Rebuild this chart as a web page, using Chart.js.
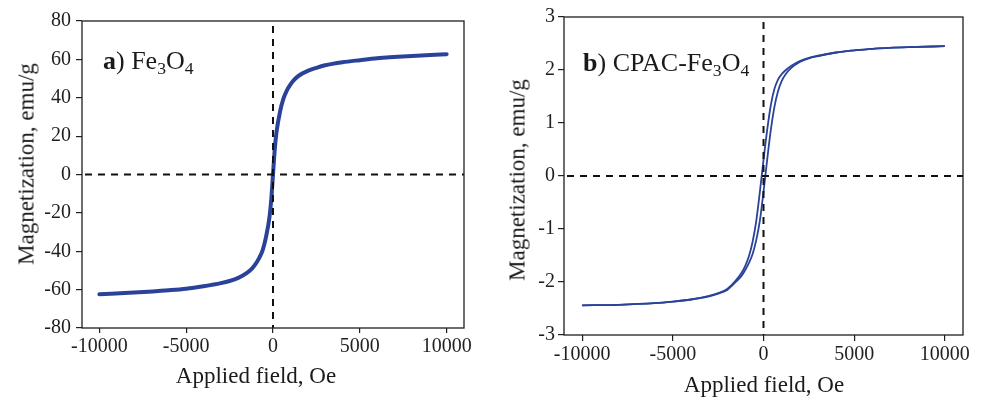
<!DOCTYPE html>
<html><head><meta charset="utf-8">
<script src="https://cdn.jsdelivr.net/npm/chart.js@4/dist/chart.umd.min.js"></script>
<style>
html,body{margin:0;padding:0;background:#fff;}
#wrap{position:relative;width:984px;height:398px;overflow:hidden;background:#fff;}
canvas{position:absolute;top:0;}
.t{position:absolute;font-family:"Liberation Serif","Times New Roman",serif;color:#1a1a1a;white-space:nowrap;line-height:1;}
.t sub{font-size:0.68em;position:relative;top:0.3em;vertical-align:baseline;line-height:0;}
</style></head>
<body><div id="wrap">
<canvas id="ca" width="490" height="398" style="left:0"></canvas>
<canvas id="cb" width="494" height="398" style="left:490px"></canvas>
<div class="t" style="left:103px;top:48px;font-size:26px"><b>a</b>) Fe<sub>3</sub>O<sub>4</sub></div>
<div class="t" style="left:583px;top:50px;font-size:26px"><b>b</b>) CPAC-Fe<sub>3</sub>O<sub>4</sub></div>
<div class="t" style="left:256px;top:364px;font-size:23px;transform:translateX(-50%)">Applied field, Oe</div>
<div class="t" style="left:764px;top:373px;font-size:23px;transform:translateX(-50%)">Applied field, Oe</div>
<div class="t" style="left:26px;top:164px;font-size:23px;transform:translate(-50%,-50%) rotate(-90deg)">Magnetization, emu/g</div>
<div class="t" style="left:517px;top:180px;font-size:23px;transform:translate(-50%,-50%) rotate(-90deg)">Magnetization, emu/g</div>
</div>
<script>
// ---- data ----
const xTicks = [-10000, -5000, 0, 5000, 10000];
const yTicksA = [-80, -60, -40, -20, 0, 20, 40, 60, 80];
const yTicksB = [-3, -2, -1, 0, 1, 2, 3];

// a) Fe3O4
const fieldA = [-10000,-8000,-6000,-5000,-4000,-3000,-2500,-2000,-1500,-1200,-1000,-800,-600,-400,-200,-100,0,100,200,400,600,800,1000,1200,1500,2000,2500,3000,4000,5000,6000,8000,10000];
const magA   = [-62.4,-61.5,-60.3,-59.5,-58.2,-56.6,-55.5,-53.9,-51.3,-48.9,-46.6,-43.6,-39.5,-32.5,-22,-13,0,13,22,32.5,39.5,43.8,46.8,49.2,51.6,54,55.6,56.9,58.5,59.6,60.6,61.8,62.7];

// b) CPAC-Fe3O4 (two branches of the loop)
const fieldB    = [-10000,-8000,-6000,-5000,-4000,-3000,-2500,-2000,-1500,-1200,-1000,-800,-600,-400,-200,0,200,400,600,800,1000,1200,1500,2000,2500,3000,4000,5000,6000,8000,10000];
const magBdown  = [-2.44,-2.43,-2.40,-2.37,-2.33,-2.26,-2.21,-2.13,-1.96,-1.82,-1.69,-1.51,-1.24,-0.85,-0.30,0.30,0.86,1.33,1.64,1.82,1.92,1.99,2.07,2.17,2.23,2.27,2.33,2.37,2.40,2.43,2.45];
const magBup    = [-2.44,-2.43,-2.40,-2.37,-2.33,-2.27,-2.22,-2.15,-1.99,-1.88,-1.77,-1.64,-1.47,-1.21,-0.84,-0.30,0.30,0.86,1.30,1.60,1.79,1.91,2.03,2.15,2.22,2.26,2.33,2.37,2.40,2.43,2.45];

// ---- styling ----
const BLUE = '#2a429a';
const INK = '#1f1f1f';
const FONT = '"Liberation Serif","Times New Roman",serif';

const pts = (xs, ys) => xs.map((x, i) => ({x, y: ys[i]}));

const framePlugin = {
  id: 'frame',
  afterDatasetsDraw(chart) {
    const {ctx, chartArea: a, scales} = chart;
    ctx.save();
    // zero reference lines
    ctx.strokeStyle = '#111';
    ctx.lineWidth = 2;
    ctx.setLineDash([7, 6]);
    const y0 = scales.y.getPixelForValue(0);
    const x0 = scales.x.getPixelForValue(0);
    ctx.beginPath();
    ctx.moveTo(a.left + 3, y0); ctx.lineTo(a.right, y0);
    ctx.moveTo(x0, a.top + 5); ctx.lineTo(x0, a.bottom);
    ctx.stroke();
    ctx.setLineDash([]);
    // frame
    ctx.strokeStyle = INK;
    ctx.lineWidth = 1.3;
    ctx.strokeRect(a.left, a.top, a.right - a.left, a.bottom - a.top);
    ctx.restore();
  }
};

function makeChart(id, datasets, yTicks, cfg) {
  return new Chart(document.getElementById(id), {
    type: 'line',
    data: {datasets},
    options: {
      responsive: false,
      animation: false,
      events: [],
      layout: {padding: cfg.pad},
      plugins: {legend: {display: false}, tooltip: {enabled: false}},
      elements: {point: {radius: 0}},
      scales: {
        x: {
          type: 'linear', min: -11000, max: 11000,
          border: {display: false},
          grid: {drawOnChartArea: false, drawTicks: true, tickLength: cfg.xtl, color: INK, lineWidth: 1.2},
          ticks: {font: {family: FONT, size: 20}, color: INK, padding: cfg.xpad, maxRotation: 0,
                  callback: v => String(v)},
          afterBuildTicks: s => { s.ticks = xTicks.map(v => ({value: v})); },
          afterFit: s => { s.height = cfg.xh; }
        },
        y: {
          type: 'linear', min: yTicks[0], max: yTicks[yTicks.length - 1],
          border: {display: false},
          grid: {drawOnChartArea: false, drawTicks: true, tickLength: cfg.ytl, color: INK, lineWidth: 1.2},
          ticks: {font: {family: FONT, size: 20}, color: INK, padding: cfg.ypad,
                  callback: v => String(v)},
          afterBuildTicks: s => { s.ticks = yTicks.map(v => ({value: v})); },
          afterFit: s => { s.width = cfg.yw; }
        }
      }
    },
    plugins: [framePlugin]
  });
}

makeChart('ca', [
  {data: pts(fieldA, magA), borderColor: BLUE, borderWidth: 4, cubicInterpolationMode: 'monotone', borderCapStyle: 'round', borderJoinStyle: 'round', fill: false}
], yTicksA, {pad: {left: 0, top: 21, right: 26, bottom: 0}, xh: 70, yw: 82, xtl: 5, xpad: 2, ytl: 6, ypad: 5});

makeChart('cb', [
  {data: pts(fieldB, magBdown), borderColor: BLUE, borderWidth: 1.8, cubicInterpolationMode: 'monotone', borderJoinStyle: 'round', fill: false},
  {data: pts(fieldB, magBup), borderColor: BLUE, borderWidth: 1.8, cubicInterpolationMode: 'monotone', borderJoinStyle: 'round', fill: false}
], yTicksB, {pad: {left: 0, top: 17, right: 21, bottom: 0}, xh: 63, yw: 74, xtl: 6, xpad: 2, ytl: 6, ypad: 3});
</script>
</body></html>
